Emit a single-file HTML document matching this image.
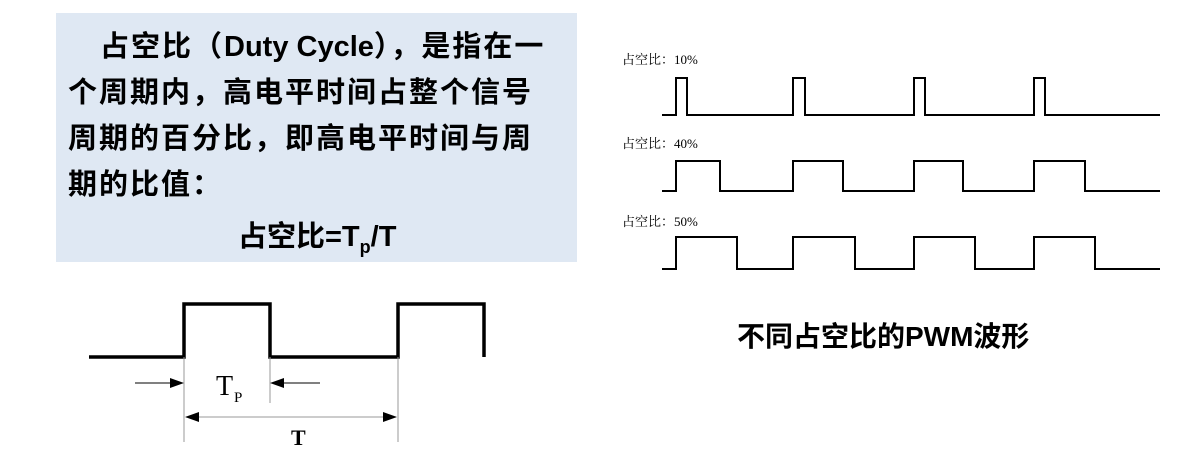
<!DOCTYPE html>
<html><head><meta charset="utf-8"><style>
body{margin:0;width:1198px;height:450px;background:#fff;position:relative;overflow:hidden;font-family:"Liberation Sans","Noto Sans CJK SC",sans-serif}
.box{position:absolute;left:56px;top:13px;width:521px;height:249px;background:#dfe8f3}
.l{position:absolute;font-weight:bold;font-size:29px;letter-spacing:2px;white-space:nowrap;color:#000;line-height:34px}
.s{position:absolute;font-family:"Liberation Serif","Noto Serif CJK SC",serif;font-size:13px;color:#000}
</style></head><body>
<div class="box"></div>
<div class="l" style="left:100px;top:30px">占空比（<span style="letter-spacing:0">Duty Cycle</span>），是指在一</div>
<div class="l" style="left:68px;top:76px">个周期内，高电平时间占整个信号</div>
<div class="l" style="left:68px;top:122px">周期的百分比，即高电平时间与周</div>
<div class="l" style="left:68px;top:168px">期的比值：</div>
<div class="l" style="left:238px;top:220px;letter-spacing:0">占空比=T<sub style="font-size:18px">p</sub>/T</div>
<div class="l" style="left:737px;top:320px;letter-spacing:0;font-size:28px">不同占空比的PWM波形</div>
<div class="s" style="left:622px;top:49px">占空比：10%</div>
<div class="s" style="left:622px;top:133px">占空比：40%</div>
<div class="s" style="left:622px;top:211px">占空比：50%</div>
<svg width="1198" height="450" style="position:absolute;left:0;top:0">
<g fill="none" stroke="#000" stroke-width="2">
<polyline points="662,115 676,115 676,78 687,78 687,115 793,115 793,78 805,78 805,115 914,115 914,78 925,78 925,115 1034,115 1034,78 1045,78 1045,115 1160,115"/>
<polyline points="662,191 676,191 676,161 720,161 720,191 793,191 793,161 843,161 843,191 914,191 914,161 963,161 963,191 1034,191 1034,161 1085,161 1085,191 1160,191"/>
<polyline points="662,269 676,269 676,237 737,237 737,269 793,269 793,237 855,237 855,269 914,269 914,237 975,237 975,269 1034,269 1034,237 1095,237 1095,269 1160,269"/>
</g>
<polyline fill="none" stroke="#000" stroke-width="3.5" points="89,357 184,357 184,304 270,304 270,357 398,357 398,304 484,304 484,357"/>
<g stroke="#999" stroke-width="1">
<line x1="184" y1="357" x2="184" y2="442"/>
<line x1="270" y1="357" x2="270" y2="403"/>
<line x1="398" y1="357" x2="398" y2="442"/>
<line x1="186" y1="417" x2="396" y2="417"/>
</g>
<g stroke="#000" stroke-width="1">
<line x1="135" y1="383" x2="172" y2="383"/>
<line x1="282" y1="383" x2="320" y2="383"/>
</g>
<polygon points="184,383 170,378 170,388" fill="#000"/>
<polygon points="270,383 284,378 284,388" fill="#000"/>
<polygon points="185,417 199,412 199,422" fill="#000"/>
<polygon points="397,417 383,412 383,422" fill="#000"/>
<text x="216" y="395" font-family="Liberation Serif,serif" font-size="28">T</text>
<text x="234" y="402" font-family="Liberation Serif,serif" font-size="15">P</text>
<text x="291" y="445" font-family="Liberation Serif,serif" font-size="22" font-weight="bold">T</text>
</svg>
</body></html>
